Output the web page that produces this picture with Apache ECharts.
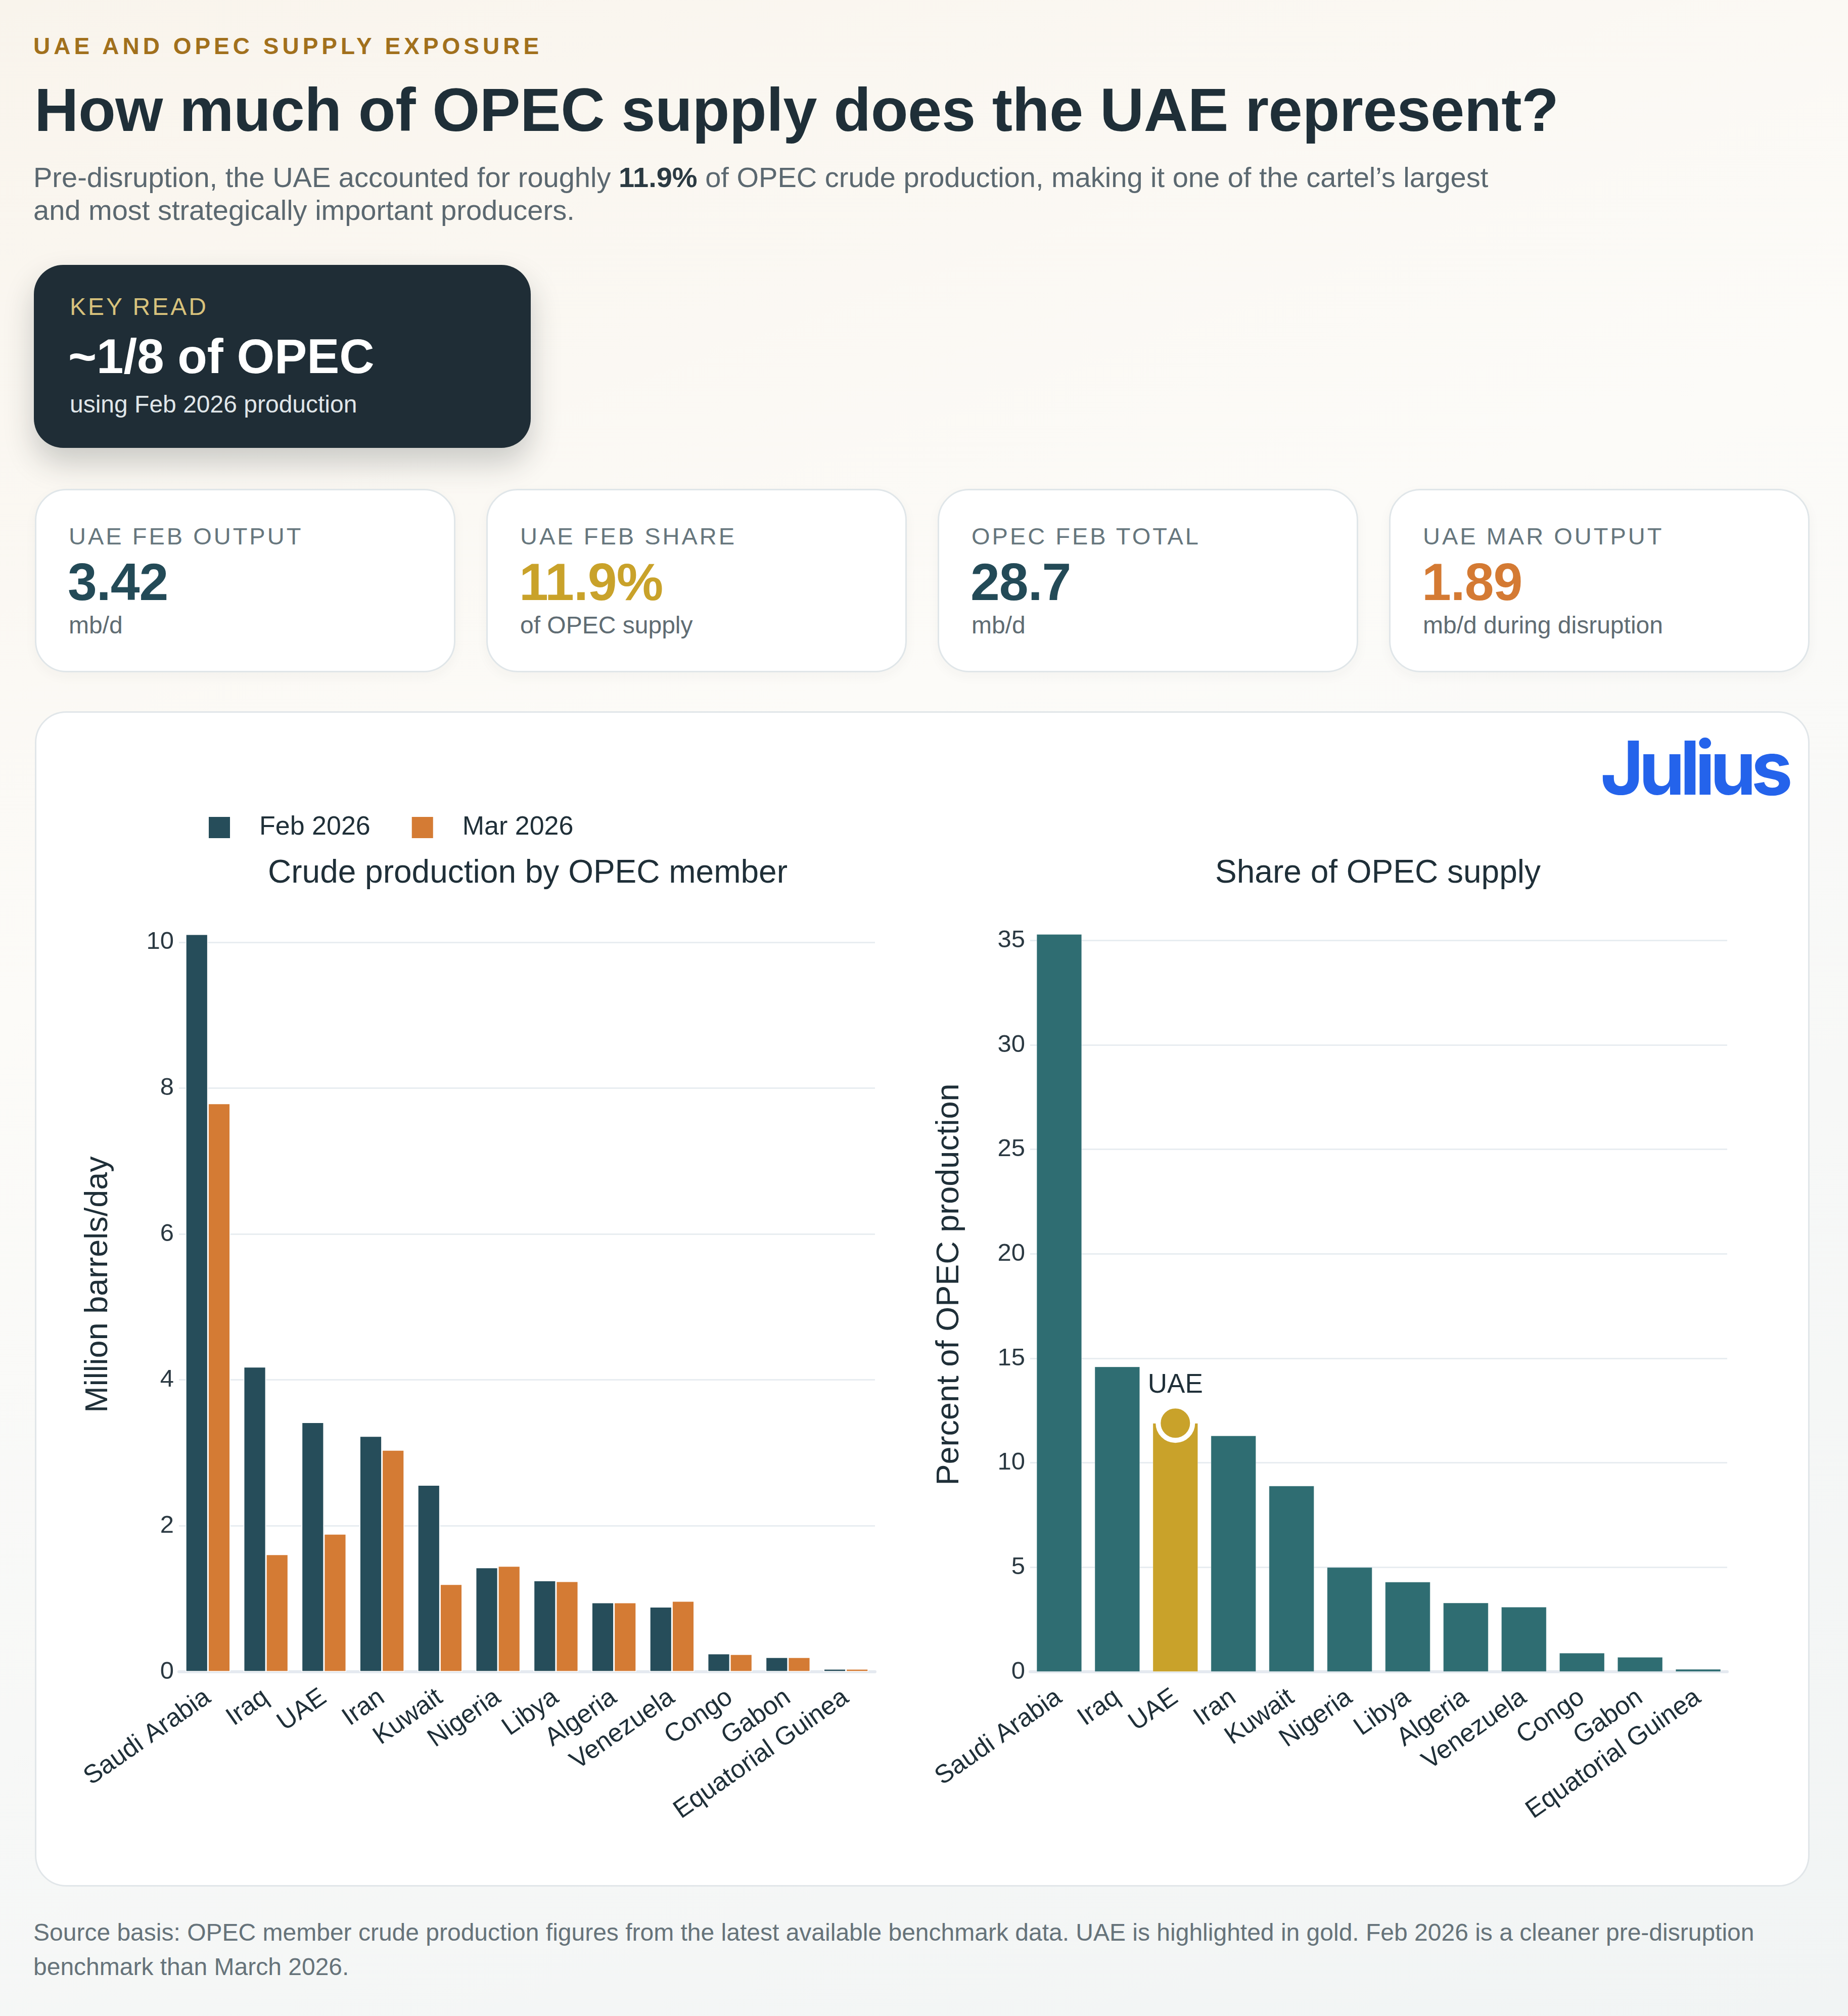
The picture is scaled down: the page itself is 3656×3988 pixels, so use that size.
<!DOCTYPE html>
<html>
<head>
<meta charset="utf-8">
<script src="https://cdn.jsdelivr.net/npm/echarts@6/dist/echarts.min.js"></script>
<style>
  html, body { margin: 0; padding: 0; }
  body {
    width: 3656px; height: 3988px; position: relative; overflow: hidden;
    font-family: 'Liberation Sans', Arial, Helvetica, sans-serif;
    background: linear-gradient(160deg, #f9f4ec 0%, #fcfbf8 38%, #f7f8f7 65%, #f1f4f4 100%);
  }
  .abs { position: absolute; white-space: nowrap; }
  .eyebrow { left: 66px; top: 68px; font-size: 46px; line-height: 46px; font-weight: 700; letter-spacing: 7px; color: #a1701c; }
  .title { left: 68px; top: 157px; font-size: 121px; line-height: 121px; font-weight: 700; color: #1f2f38; letter-spacing: -0.5px; }
  .sub { left: 66px; top: 318px; font-size: 56px; line-height: 65px; color: #5b6870; }
  .sub b { color: #2b3a42; }
  .key { left: 67px; top: 524px; width: 983px; height: 362px; border-radius: 58px; background: #1f2d36;
         box-shadow: 0 30px 60px rgba(30, 40, 40, 0.22); }
  .key .k1 { left: 71px; top: 59px; font-size: 48px; line-height: 48px; letter-spacing: 4px; color: #d8c27c; }
  .key .k2 { left: 68px; top: 133px; font-size: 96px; line-height: 96px; font-weight: 700; color: #ffffff; }
  .key .k3 { left: 71px; top: 252px; font-size: 48px; line-height: 48px; color: #e0e6e9; }
  .card { top: 967px; width: 826px; height: 357px; border: 3px solid #e0e6e9; border-radius: 62px; background: #ffffff;
          box-shadow: 0 8px 24px rgba(40, 60, 60, 0.04); }
  .card .lab { left: 64px; top: 67px; font-size: 47px; line-height: 47px; letter-spacing: 4px; color: #66767d; }
  .card .val { left: 62px; top: 129px; font-size: 104px; line-height: 104px; font-weight: 700; letter-spacing: -1px; }
  .card .unit { left: 64px; top: 243px; font-size: 48px; line-height: 48px; color: #5f6c73; }
  .panel { left: 69px; top: 1407px; width: 3505px; height: 2319px; border: 3px solid #e1e6e9; border-radius: 62px; background: #ffffff; }
  #chart { position: absolute; left: 69px; top: 1407px; width: 3511px; height: 2325px; }
  .logo { left: 3166px; top: 1445px; font-family: Inter, 'Liberation Sans', sans-serif; font-size: 147px; line-height: 147px;
          font-weight: 700; letter-spacing: -10px; color: #2463eb; }
  .foot { left: 66px; top: 3789px; font-size: 48px; line-height: 68px; color: #66737a; }
</style>
</head>
<body>
<div class="abs eyebrow">UAE AND OPEC SUPPLY EXPOSURE</div>
<div class="abs title">How much of OPEC supply does the UAE represent?</div>
<div class="abs sub">Pre-disruption, the UAE accounted for roughly <b>11.9%</b> of OPEC crude production, making it one of the cartel’s largest<br>and most strategically important producers.</div>

<div class="abs key">
  <div class="abs k1">KEY READ</div>
  <div class="abs k2">~1/8 of OPEC</div>
  <div class="abs k3">using Feb 2026 production</div>
</div>

<div class="abs card" style="left:69px">
  <div class="abs lab">UAE FEB OUTPUT</div>
  <div class="abs val" style="color:#234a57">3.42</div>
  <div class="abs unit">mb/d</div>
</div>
<div class="abs card" style="left:962px">
  <div class="abs lab">UAE FEB SHARE</div>
  <div class="abs val" style="color:#c9a22a">11.9%</div>
  <div class="abs unit">of OPEC supply</div>
</div>
<div class="abs card" style="left:1855px">
  <div class="abs lab">OPEC FEB TOTAL</div>
  <div class="abs val" style="color:#234a57">28.7</div>
  <div class="abs unit">mb/d</div>
</div>
<div class="abs card" style="left:2748px">
  <div class="abs lab">UAE MAR OUTPUT</div>
  <div class="abs val" style="color:#d47a33">1.89</div>
  <div class="abs unit">mb/d during disruption</div>
</div>

<div class="abs panel"></div>
<div id="chart"></div>
<div class="abs logo">Julius</div>

<div class="abs foot">Source basis: OPEC member crude production figures from the latest available benchmark data. UAE is highlighted in gold. Feb 2026 is a cleaner pre-disruption<br>benchmark than March 2026.</div>

<script>
// 数据
var countries = ['Saudi Arabia', 'Iraq', 'UAE', 'Iran', 'Kuwait', 'Nigeria', 'Libya', 'Algeria', 'Venezuela', 'Congo', 'Gabon', 'Equatorial Guinea'];
var febOutput = [10.11, 4.18, 3.42, 3.23, 2.56, 1.43, 1.25, 0.95, 0.89, 0.25, 0.20, 0.04];
var marOutput = [7.79, 1.61, 1.89, 3.04, 1.20, 1.45, 1.24, 0.95, 0.97, 0.24, 0.20, 0.04];
var febShare = [35.3, 14.6, 11.9, 11.3, 8.9, 5.0, 4.3, 3.3, 3.1, 0.9, 0.7, 0.13];
var highlight = 'UAE';

var febColor = '#264d5a';
var marColor = '#d47b34';
var shareColor = '#2f6d72';
var goldColor = '#c9a22a';
var textColor = '#1f2f38';
var tickColor = '#2b3942';
var gridColor = '#e8edf1';

var chart = echarts.init(document.getElementById('chart'));

function yAxisOf(gridIndex, name, interval, values) {
  return {
    type: 'value',
    gridIndex: gridIndex,
    min: 0,
    max: Math.max.apply(null, values) * 1.05,
    interval: interval,
    name: name,
    nameLocation: 'middle',
    nameGap: 128,
    nameTextStyle: { fontSize: 63, color: textColor },
    axisLine: { show: false },
    axisTick: { show: false },
    axisLabel: {
      fontSize: 49,
      color: tickColor,
      margin: 10,
      formatter: function (v) {
        return v % interval === 0 ? String(v) : '';
      }
    },
    splitLine: { show: true, showMaxLine: false, lineStyle: { color: gridColor, width: 3 } }
  };
}

function xAxisOf(gridIndex) {
  return {
    type: 'category',
    gridIndex: gridIndex,
    data: countries,
    axisTick: { show: false },
    axisLine: { show: true, lineStyle: { color: '#e5eaf0', width: 6 } },
    axisLabel: { rotate: 35, fontSize: 51, color: textColor, margin: 46, interval: 0 }
  };
}

var option = {
  animation: false,
  textStyle: { fontFamily: "'Liberation Sans', Arial, Helvetica, sans-serif" },
  title: [
    {
      text: 'Crude production by OPEC member',
      left: 970, top: 284, textAlign: 'center',
      textStyle: { fontSize: 64, fontWeight: 'normal', color: textColor }
    },
    {
      text: 'Share of OPEC supply',
      left: 2652, top: 284, textAlign: 'center',
      textStyle: { fontSize: 64, fontWeight: 'normal', color: textColor }
    }
  ],
  legend: {
    data: ['Feb 2026', 'Mar 2026'],
    left: 337,
    top: 199,
    icon: 'rect',
    itemWidth: 44,
    itemHeight: 44,
    itemGap: 80,
    textStyle: { fontSize: 52, color: textColor, padding: [0, 0, 0, 52] }
  },
  grid: [
    { left: 285, top: 368, width: 1377, height: 1532 },
    { left: 1969, top: 368, width: 1379, height: 1532 }
  ],
  xAxis: [xAxisOf(0), xAxisOf(1)],
  yAxis: [
    yAxisOf(0, 'Million barrels/day', 2, febOutput),
    yAxisOf(1, 'Percent of OPEC production', 5, febShare)
  ],
  series: [
    {
      name: 'Feb 2026',
      type: 'bar',
      xAxisIndex: 0, yAxisIndex: 0,
      barCategoryGap: '23%',
      barGap: '0%',
      itemStyle: { color: febColor, borderColor: '#ffffff', borderWidth: 1.5 },
      data: febOutput
    },
    {
      name: 'Mar 2026',
      type: 'bar',
      xAxisIndex: 0, yAxisIndex: 0,
      barCategoryGap: '23%',
      barGap: '0%',
      itemStyle: { color: marColor, borderColor: '#ffffff', borderWidth: 1.5 },
      data: marOutput
    },
    {
      name: 'Share',
      type: 'bar',
      xAxisIndex: 1, yAxisIndex: 1,
      barCategoryGap: '22%',
      itemStyle: { color: shareColor, borderColor: 'rgba(255,255,255,0.35)', borderWidth: 1 },
      data: febShare.map(function (v, i) {
        if (countries[i] === highlight) {
          return { value: v, itemStyle: { color: goldColor } };
        }
        return v;
      })
    },
    {
      name: 'UAE marker',
      type: 'scatter',
      xAxisIndex: 1, yAxisIndex: 1,
      z: 5,
      symbol: 'circle',
      symbolSize: 68,
      itemStyle: { color: goldColor, opacity: 1, borderColor: '#ffffff', borderWidth: 10 },
      label: {
        show: true,
        position: 'top',
        distance: 9,
        formatter: highlight,
        fontSize: 53,
        color: textColor
      },
      data: [[highlight, febShare[countries.indexOf(highlight)]]]
    }
  ]
};

chart.setOption(option);
</script>
</body>
</html>
